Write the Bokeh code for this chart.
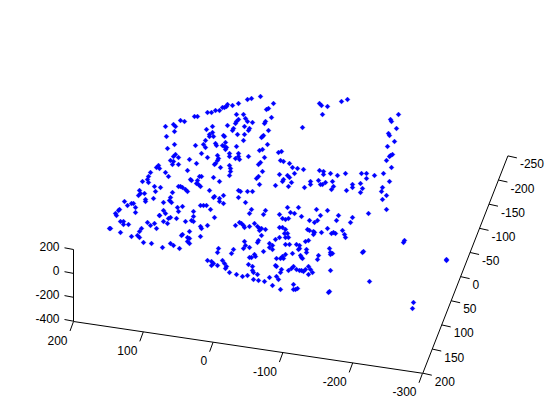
from bokeh.plotting import figure
from bokeh.models import Range1d
from bokeh.core.properties import value
from bokeh.embed import file_html
from bokeh.resources import INLINE

# Scatter values as read from the 3-D view (projected horizontal, vertical position)
upper_left = [
 (260,96),(251,98),(247,99),(238,103),(232,105),(227,104),(226,106),(224,107),(222,107),(219,110),(215,110),
 (211,112),(207,112),(197,116),(194,116),(184,121),(180,120),(173,124),(175,126),(165,126),(174,131),(166,136),
 (174,144),(167,148),(206,129),(212,126),(212,132),(209,134),(209,136),(213,136),(227,125),(236,114),(243,114),
 (245,118),(247,121),(252,122),(238,119),(236,121),(235,123),(233,128),(232,130),(244,126),(249,128),(248,130),
 (244,134),(237,134),(223,135),(224,136),(243,140),(205,140),(203,144),(205,147),(195,145),(215,143),(216,145),
 (225,142),(222,145),(224,146),(226,147),(225,149),(236,146),(201,153),(207,157),(189,159),(196,163),(175,154),
 (178,157),(173,156),(170,160),(173,161),(172,164),(178,164),(217,155),(218,158),(217,160),(215,163),(214,164),
 (220,167),(229,153),(229,156),(238,153),(238,156),(235,158),(239,159),(248,156),(258,164),(260,162),(259,150),
 (229,165),(230,168),(230,171),(229,175),(158,165),(156,167),(159,168),(150,172),(165,172),(168,176),(187,170),
 (148,176),(147,179),(148,182),(142,181),(154,186),(160,187),(155,191),(153,198),(199,176),(201,176),(190,179),
 (191,180),(197,180),(196,183),(198,184),(200,186),(213,177),(219,181),(178,186),(180,186),(182,187),(185,189),
 (187,191),(209,190),(238,190),(240,191),(247,191),(252,191),(238,197),(223,195),(214,196),(213,197),(219,198),
 (219,201),(223,203),(245,202),(139,190),(140,193),(144,193),(138,195),(145,199),(145,201),(172,192),(170,197),
 (169,200),(171,202),(163,202),(124,201),(133,203),(131,203),(127,205),(135,207),(119,209),(118,210),(115,213),
 (135,212),(163,210),(165,213),(159,215),(177,207),(178,211),(182,206),(193,211),(200,205),(203,205),(206,205),
 (210,209),(251,209),(249,213),(258,176),(256,178),(259,184),
]
upper_right = [
 (273,103),(268,108),(266,109),(271,117),(265,121),(264,123),(268,130),(263,135),(262,136),(261,137),(267,144),
 (262,149),(264,157),(262,171),(278,152),(281,151),(280,160),(283,161),(289,163),(292,167),(297,168),(303,169),
 (294,173),(279,174),(287,175),(289,177),(283,179),(282,181),(291,182),(275,185),(288,186),(304,187),(310,181),
 (310,184),(318,180),(319,170),(323,171),(323,174),(330,173),(337,175),(345,173),(361,173),(366,173),(366,178),
 (374,175),(383,173),(391,167),(386,160),(389,156),(390,155),(392,154),(394,141),(387,146),(388,133),(389,135),
 (396,128),(390,119),(391,121),(398,114),(302,127),(319,103),(321,105),(327,106),(322,114),(341,101),(347,99),
 (320,184),(322,184),(325,182),(332,181),(333,186),(331,189),(346,190),(352,184),(352,187),(360,183),(362,188),
 (360,192),(389,181),(382,187),(381,191),(386,195),(382,199),(386,209),(368,213),(338,215),(327,210),(316,209),
 (320,215),(298,207),(287,207),(290,212),(294,213),(279,214),(265,210),(263,214),
]
lower_left = [
 (116,215),(120,221),(123,221),(123,224),(128,224),(109,228),(110,228),(120,232),(131,236),(137,235),(139,237),
 (141,228),(139,231),(143,242),(151,243),(147,222),(150,225),(154,223),(156,228),(159,215),(163,221),(167,223),
 (168,218),(170,217),(176,218),(185,221),(191,220),(193,221),(193,216),(214,217),(207,225),(200,226),(201,228),
 (189,231),(182,234),(181,235),(200,236),(187,237),(189,238),(187,241),(189,243),(162,247),(170,243),(173,245),
 (179,248),(218,248),(217,252),(233,249),(231,253),(244,241),(245,245),(243,248),(249,247),(263,251),(269,243),
 (269,247),(261,235),(258,240),(257,242),(235,225),(239,222),(241,223),(243,225),(244,227),(249,226),(254,223),
 (257,226),(259,228),(261,228),(265,229),(259,230),(207,260),(211,261),(213,263),(211,265),(217,265),(222,260),
 (224,263),(226,266),(225,268),(229,272),(236,274),(242,276),(247,275),(248,264),(252,266),(249,257),(251,257),
 (254,254),(255,256),(252,270),(253,272),(257,274),(253,279),(258,280),(264,281),(269,277),
]
lower_right = [
 (282,218),(285,219),(288,218),(301,216),(309,220),(314,222),(317,220),(336,220),(352,217),(350,222),(279,227),
 (282,227),(285,229),(284,233),(287,233),(285,237),(288,237),(279,237),(275,239),(307,229),(309,230),(313,231),
 (313,234),(314,232),(321,232),(327,228),(331,233),(333,232),(335,233),(342,230),(344,234),(345,237),(308,240),
 (305,241),(285,244),(289,244),(296,244),(299,245),(299,248),(298,249),(272,245),(272,249),(306,249),(306,252),
 (292,253),(329,248),(330,252),(332,253),(330,254),(318,255),(317,259),(300,255),(301,257),(302,258),(285,254),
 (282,256),(276,258),(280,258),(283,258),(275,265),(276,266),(281,269),(280,272),(288,270),(291,268),(293,266),
 (296,269),(299,270),(301,270),(303,271),(305,269),(308,266),(310,269),(312,272),(308,274),(330,270),(276,276),
 (278,279),(272,285),(280,289),(293,284),(293,289),(295,289),(297,288),(328,292),(329,291),(369,281),(413,302),
 (412,308),(403,242),(404,240),(363,251),(362,252),(446,260),(446,259),
]
points = upper_left + upper_right + lower_left + lower_right
px = [a for a, b in points]
py = [b for a, b in points]

x_ticks = [200, 100, 0, -100, -200, -300]
y_ticks = [-250, -200, -150, -100, -50, 0, 50, 100, 150, 200]
z_ticks = [200, 0, -200, -400]

# view of the box
def xpos(v):
    return (73 + (200 - v) * 0.698, 321 + (200 - v) * 0.1035)
def ypos(v):
    return (422.3 + (200 - v) * 0.1891, 372.7 - (200 - v) * 0.4829)
def zpos(v):
    return (73, 320.7 - (v + 400) * 0.1195)

p = figure(width=552, height=412, output_backend="svg", toolbar_location=None,
           x_range=Range1d(0, 552), y_range=Range1d(412, 0), min_border=0)
p.xaxis.visible = False
p.yaxis.visible = False
p.grid.visible = False
p.outline_line_color = None

font = value("Liberation Sans")
def line(a, b):
    p.line([a[0], b[0]], [a[1], b[1]], line_color="black", line_width=1)

line(xpos(200), xpos(-300))
line(ypos(200), ypos(-250))
line(zpos(200), zpos(-400))

for v in x_ticks:
    a = xpos(v)
    line(a, (a[0] - 3.5, a[1] + 9.5))
    p.text([a[0] - 6], [a[1] + 18.5], text=[str(v)], text_align="right", text_baseline="middle",
           text_font=font, text_font_size="12px", text_color="black")
for v in y_ticks:
    a = ypos(v)
    line(a, (a[0] + 9, a[1] + 2))
    p.text([a[0] + 12], [a[1] + 8], text=[str(v)], text_align="left", text_baseline="middle",
           text_font=font, text_font_size="12px", text_color="black")
for v in z_ticks:
    a = zpos(v)
    line(a, (a[0] - 9, a[1] - 1.7))
    p.text([a[0] - 14], [a[1] - 3], text=[str(v)], text_align="right", text_baseline="middle",
           text_font=font, text_font_size="12px", text_color="black")

p.scatter(px, py, marker="square", angle=0.7854, size=3.5, fill_color="#0000ff", line_color="#0000ff", line_width=0.25)

open("out.html", "w").write(file_html(p, INLINE))
